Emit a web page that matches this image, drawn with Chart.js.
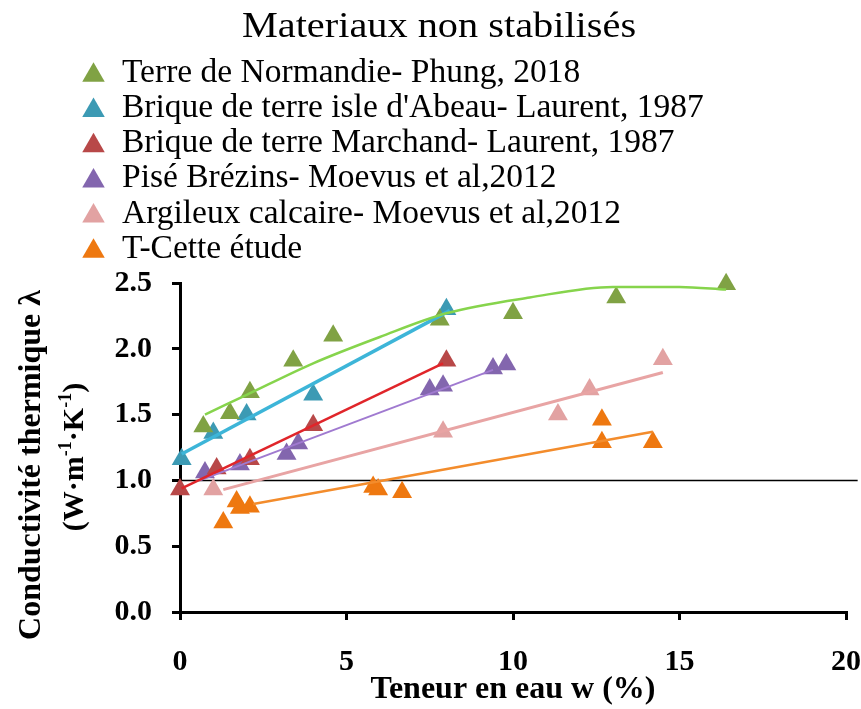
<!DOCTYPE html>
<html>
<head>
<meta charset="utf-8">
<script src="https://cdn.jsdelivr.net/npm/chart.js@4.4.1/dist/chart.umd.min.js"></script>
<style>
  html, body { margin: 0; padding: 0; background: #fff; overflow: hidden; }
  canvas { display: block; }
</style>
</head>
<body>
<canvas id="lambdaChart" width="861" height="709"></canvas>
<script>
var serif = "'Liberation Serif', 'Times New Roman', serif";

// teneur en eau w (%) et conductivite (W/m/K) pour chaque materiau
const normandieW = [0.7, 1.5, 2.1, 3.4, 4.6, 7.8, 10.0, 13.1, 16.4];
const normandieL = [1.41, 1.51, 1.67, 1.91, 2.10, 2.22, 2.27, 2.39, 2.49];
const abeauW = [0.05, 1.0, 2.0, 4.0, 8.0];
const abeauL = [1.16, 1.36, 1.50, 1.65, 2.30];
const marchandW = [0.0, 1.1, 2.1, 4.0, 8.0];
const marchandL = [0.93, 1.09, 1.16, 1.42, 1.91];
const brezinsW = [0.75, 1.8, 3.2, 3.55, 7.5, 7.9, 9.4, 9.8];
const brezinsL = [1.06, 1.12, 1.20, 1.28, 1.69, 1.72, 1.85, 1.88];
const calcaireW = [1.0, 7.9, 11.35, 12.3, 14.5];
const calcaireL = [0.93, 1.37, 1.50, 1.69, 1.92];
const etudeW = [1.3, 1.7, 1.8, 2.1, 5.8, 5.95, 6.67, 12.67, 12.67, 14.2];
const etudeL = [0.68, 0.84, 0.79, 0.80, 0.95, 0.93, 0.91, 1.46, 1.29, 1.29];

// courbes de tendance
const normandieTrendW = [0.75, 2, 4, 6, 8, 10.5, 13, 15, 16.4];
const normandieTrendL = [1.50, 1.65, 1.89, 2.09, 2.27, 2.39, 2.47, 2.47, 2.45];
const abeauTrendW = [0.05, 8.1];
const abeauTrendL = [1.20, 2.29];
const marchandTrendW = [0.05, 7.9];
const marchandTrendL = [0.94, 1.89];
const brezinsTrendW = [0.6, 9.4];
const brezinsTrendL = [1.00, 1.84];
const calcaireTrendW = [1.3, 14.5];
const calcaireTrendL = [0.93, 1.82];
const etudeTrendW = [2.2, 14.2];
const etudeTrendL = [0.82, 1.37];

// ligne de reference lambda = 1
const refW = [0, 20.35];
const refL = [1.0, 1.0];

const xTicks = [0, 5, 10, 15, 20];
const yTicks = [0.0, 0.5, 1.0, 1.5, 2.0, 2.5];

const legendLabels = [
    "Terre de Normandie- Phung, 2018",
    "Brique de terre isle d'Abeau- Laurent, 1987",
    "Brique de terre Marchand- Laurent, 1987",
    "Pisé Brézins- Moevus et al,2012",
    "Argileux calcaire- Moevus et al,2012",
    "T-Cette étude"
];
const pointColors = ['#80A244', '#3C9AB4', '#B84848', '#8366AE', '#E2A2A2', '#EE7810'];
const lineColors = ['#86D44C', '#3DB5D8', '#E0252A', '#A07AD0', '#E8A4A4', '#F38C2C'];
const lineWidths = [2.5, 3.5, 2.5, 2, 3, 2.5];

function toXY(ws, ls) {
    return ws.map((w, i) => ({ x: w, y: ls[i] }));
}

const series = [
    [normandieW, normandieL, normandieTrendW, normandieTrendL],
    [abeauW, abeauL, abeauTrendW, abeauTrendL],
    [marchandW, marchandL, marchandTrendW, marchandTrendL],
    [brezinsW, brezinsL, brezinsTrendW, brezinsTrendL],
    [calcaireW, calcaireL, calcaireTrendW, calcaireTrendL],
    [etudeW, etudeL, etudeTrendW, etudeTrendL]
];

const datasets = [];
series.forEach((s, i) => {
    datasets.push({
        label: legendLabels[i],
        data: toXY(s[0], s[1]),
        pointStyle: 'triangle',
        pointRadius: 11.5,
        pointBackgroundColor: pointColors[i],
        pointBorderColor: pointColors[i],
        pointBorderWidth: 0,
        showLine: false,
        clip: false,
        order: 2
    });
    datasets.push({
        label: legendLabels[i] + ' (tendance)',
        data: toXY(s[2], s[3]),
        showLine: true,
        pointRadius: 0,
        borderColor: lineColors[i],
        borderWidth: lineWidths[i],
        tension: i === 0 ? 0.4 : 0,
        cubicInterpolationMode: i === 0 ? 'monotone' : 'default',
        order: 1
    });
});
datasets.push({
    label: 'ref',
    data: toXY(refW, refL),
    showLine: true,
    pointRadius: 0,
    borderColor: '#000',
    borderWidth: 1.5,
    clip: false,
    order: 3
});

// titre, legende (une entree par ligne) et titre de l'axe y avec exposants
const legendeManuelle = {
    id: 'legendeManuelle',
    afterDraw(chart) {
        const ctx = chart.ctx;
        ctx.save();
        ctx.fillStyle = '#000';
        ctx.textBaseline = 'alphabetic';

        // titre
        ctx.save();
        ctx.translate(439, 37);
        ctx.scale(1.12, 1);
        ctx.textAlign = 'center';
        ctx.font = '36px ' + serif;
        ctx.fillText('Materiaux non stabilisés', 0, 0);
        ctx.restore();

        // legende
        ctx.textAlign = 'left';
        ctx.font = '33.5px ' + serif;
        legendLabels.forEach((txt, i) => {
            const base = 81.8 + i * 35.2;
            const cy = base - 6.5;
            const r = 13;
            ctx.beginPath();
            ctx.moveTo(93.5, cy - r);
            ctx.lineTo(93.5 + r * 0.866, cy + r * 0.5);
            ctx.lineTo(93.5 - r * 0.866, cy + r * 0.5);
            ctx.closePath();
            ctx.fillStyle = pointColors[i];
            ctx.fill();
            ctx.fillStyle = '#000';
            ctx.fillText(txt, 122, base);
        });

        // titre axe y, deux lignes
        ctx.save();
        ctx.translate(32, 465);
        ctx.rotate(-Math.PI / 2);
        ctx.textAlign = 'center';
        ctx.textBaseline = 'middle';
        ctx.font = 'bold 32px ' + serif;
        ctx.fillText('Conductivité thermique λ', 0, 0);
        ctx.restore();

        ctx.save();
        ctx.translate(75, 457);
        ctx.rotate(-Math.PI / 2);
        ctx.textAlign = 'left';
        ctx.textBaseline = 'middle';
        const parts = [['(W·m', false], ['-1', true], ['·K', false], ['-1', true], [')', false]];
        const big = 'bold 30px ' + serif;
        const small = 'bold 18px ' + serif;
        let total = 0;
        parts.forEach(p => { ctx.font = p[1] ? small : big; total += ctx.measureText(p[0]).width; });
        let x = -total / 2;
        parts.forEach(p => {
            ctx.font = p[1] ? small : big;
            ctx.fillText(p[0], x, p[1] ? -9 : 0);
            x += ctx.measureText(p[0]).width;
        });
        ctx.restore();

        ctx.restore();
    }
};

const axisGrid = {
    drawOnChartArea: false,
    drawTicks: true,
    tickLength: 8,
    color: '#000',
    lineWidth: 3
};

const ctx = document.getElementById('lambdaChart').getContext('2d');
const lambdaChart = new Chart(ctx, {
    type: 'scatter',
    data: { datasets: datasets },
    options: {
        responsive: false,
        animation: false,
        devicePixelRatio: 1,
        layout: {
            autoPadding: false,
            padding: { top: 283, right: 0, left: 0, bottom: 0 }
        },
        plugins: {
            legend: { display: false },
            title: { display: false },
            tooltip: { enabled: false }
        },
        scales: {
            x: {
                type: 'linear',
                min: 0,
                max: 20,
                // le padding des ticks ne doit pas reduire la zone a droite
                afterFit: (scale) => { scale.height = 97; scale.paddingRight = 15; },
                afterBuildTicks: (scale) => { scale.ticks = xTicks.map(v => ({ value: v })); },
                ticks: {
                    color: '#000',
                    padding: 24,
                    maxRotation: 0,
                    font: { family: serif, size: 30, weight: 'bold' }
                },
                grid: axisGrid,
                border: { color: '#000', width: 3 },
                title: {
                    display: true,
                    text: 'Teneur en eau w (%)',
                    color: '#000',
                    padding: { top: -10, bottom: 0 },
                    font: { family: serif, size: 32, weight: 'bold' }
                }
            },
            y: {
                type: 'linear',
                min: 0,
                max: 2.5,
                afterFit: (scale) => { scale.width = 180; },
                afterBuildTicks: (scale) => { scale.ticks = yTicks.map(v => ({ value: v })); },
                ticks: {
                    color: '#000',
                    padding: 20,
                    callback: (v) => v.toFixed(1),
                    font: { family: serif, size: 30, weight: 'bold' }
                },
                grid: axisGrid,
                border: { color: '#000', width: 3 }
            }
        }
    },
    plugins: [legendeManuelle]
});
</script>
</body>
</html>
